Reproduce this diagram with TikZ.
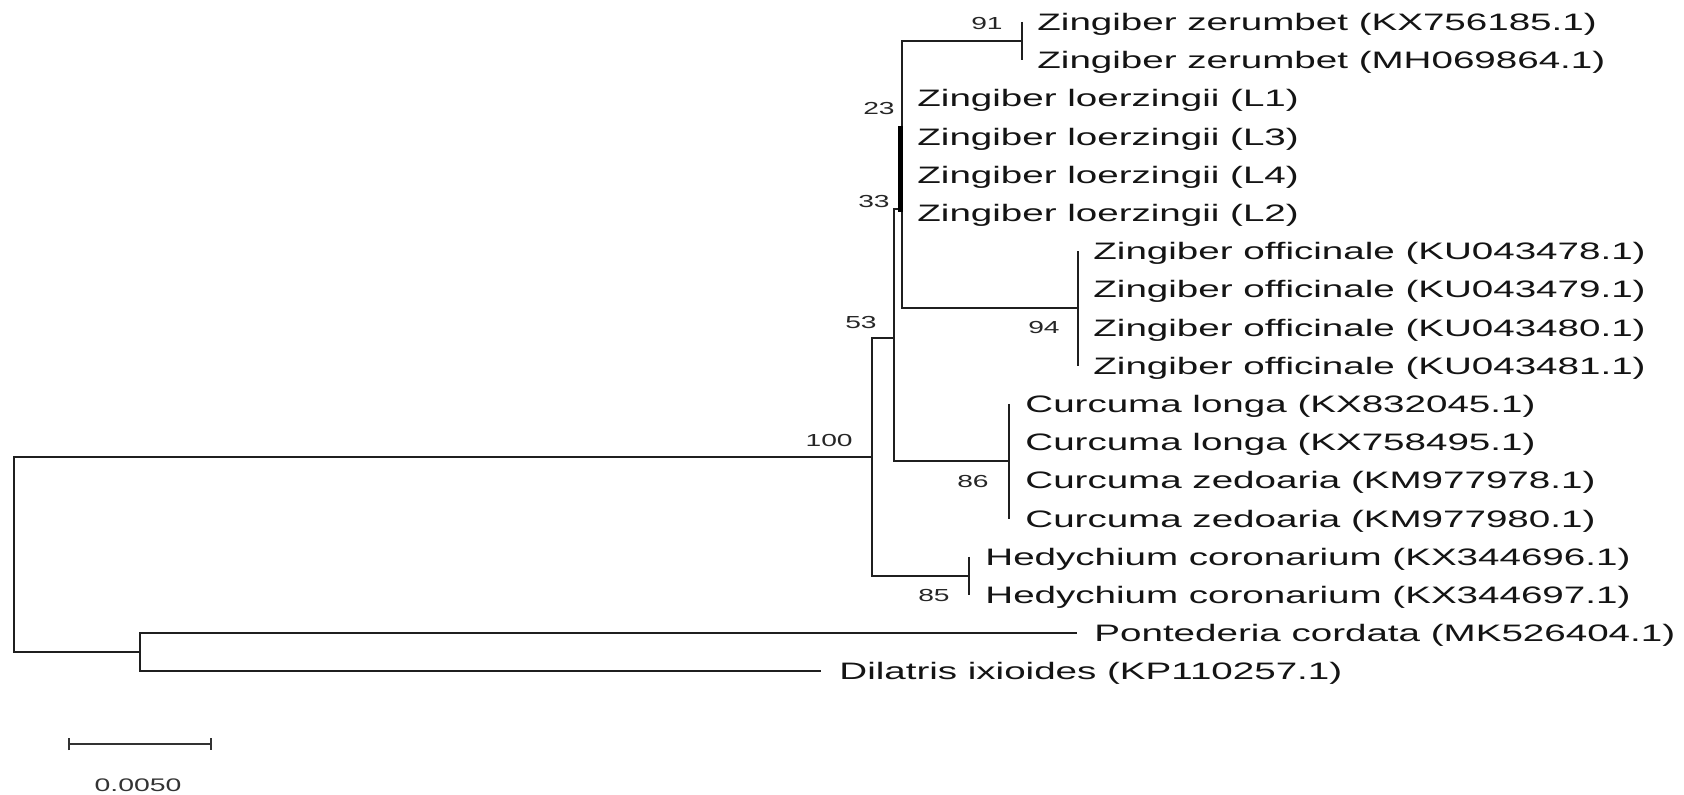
\documentclass[tikz,border=0pt]{standalone}
\usepackage{fontspec}
\setmainfont{Liberation Sans}
\usepackage{graphicx}
\usetikzlibrary{arrows.meta}

% wide-set labels, as the tree program renders them
\newcommand{\widelabel}[1]{\scalebox{1.62}[1]{#1}}
\newcommand{\widescale}[1]{\scalebox{1.56}[1]{#1}}

\tikzset{
  branch/.style={draw=black!88, line width=1pt, line join=miter},
  polytomy/.style={draw=black, line width=2.6pt},
  taxon/.style={anchor=base west, inner sep=0pt, text=black!92,
                font=\fontsize{11.9}{14}\selectfont},
  boot/.style={anchor=base east, inner sep=0pt, text=black!85,
               font=\fontsize{8.7}{10}\selectfont},
  scalebar/.style={draw=black!80, line width=1pt,
                   {Bar[width=6pt]}-{Bar[width=6pt]}},
  scalelabel/.style={anchor=base, inner sep=0pt, text=black!80,
                     font=\fontsize{9.1}{11}\selectfont},
}

\begin{document}
\begin{tikzpicture}[x=0.5pt, y=-0.5pt]
\fill[white] (0,0) rectangle (1684,795);
\useasboundingbox (0,0) rectangle (1684,795);

% internal nodes of the tree
\coordinate (root)  at (14,554);
\coordinate (n100)  at (872,457);
\coordinate (n53)   at (894,338);
\coordinate (n33)   at (902,209);
\coordinate (n23)   at (902,125);
\coordinate (nzer)  at (1022,41.1);
\coordinate (noff)  at (1078,308.5);
\coordinate (ncur)  at (1009,461.3);
\coordinate (nhed)  at (969,575.9);
\coordinate (nout)  at (140,652.3);
\coordinate (lztop) at (900.5,126);
\coordinate (lzbot) at (900.5,212);

% terminal tips
\coordinate (tz1) at (1022,22);    \coordinate (tz2) at (1022,60.2);
\coordinate (to1) at (1078,251.2); \coordinate (to4) at (1078,365.8);
\coordinate (tc1) at (1009,404);   \coordinate (tc4) at (1009,518.6);
\coordinate (th1) at (969,556.8);  \coordinate (th2) at (969,595);
\coordinate (tpon) at (1077,633.2);
\coordinate (tdil) at (821,671.4);

% branches
\draw[branch] (root) |- (n100);
\draw[branch] (root) |- (nout);
\draw[branch] (n100) |- (n53);
\draw[branch] (n100) |- (nhed);
\draw[branch] (n53) |- (n33);
\draw[branch] (n53) |- (ncur);
\draw[branch] (n33) |- (noff);
\draw[branch] (n33) -- (n23);
\draw[branch] (n23) |- (nzer);
\draw[branch] (tz1) -- (tz2);
\draw[branch] (to1) -- (to4);
\draw[branch] (tc1) -- (tc4);
\draw[branch] (th1) -- (th2);
\draw[branch] (nout) |- (tpon);
\draw[branch] (nout) |- (tdil);
\draw[polytomy] (lztop) -- (lzbot);

% taxon labels
\node[taxon] (l1)  at (1037,30.5)  {\widelabel{Zingiber zerumbet (KX756185.1)}};
\node[taxon] (l2)  at (1037,68.7)  {\widelabel{Zingiber zerumbet (MH069864.1)}};
\node[taxon] (l3)  at (917,106.9)  {\widelabel{Zingiber loerzingii (L1)}};
\node[taxon] (l4)  at (917,145.1)  {\widelabel{Zingiber loerzingii (L3)}};
\node[taxon] (l5)  at (917,183.3)  {\widelabel{Zingiber loerzingii (L4)}};
\node[taxon] (l6)  at (917,221.5)  {\widelabel{Zingiber loerzingii (L2)}};
\node[taxon] (l7)  at (1093,259.7) {\widelabel{Zingiber officinale (KU043478.1)}};
\node[taxon] (l8)  at (1093,297.9) {\widelabel{Zingiber officinale (KU043479.1)}};
\node[taxon] (l9)  at (1093,336.1) {\widelabel{Zingiber officinale (KU043480.1)}};
\node[taxon] (l10) at (1093,374.3) {\widelabel{Zingiber officinale (KU043481.1)}};
\node[taxon] (l11) at (1025,412.5) {\widelabel{Curcuma longa (KX832045.1)}};
\node[taxon] (l12) at (1025,450.7) {\widelabel{Curcuma longa (KX758495.1)}};
\node[taxon] (l13) at (1025,488.9) {\widelabel{Curcuma zedoaria (KM977978.1)}};
\node[taxon] (l14) at (1025,527.1) {\widelabel{Curcuma zedoaria (KM977980.1)}};
\node[taxon] (l15) at (985,565.3)  {\widelabel{Hedychium coronarium (KX344696.1)}};
\node[taxon] (l16) at (985,603.5)  {\widelabel{Hedychium coronarium (KX344697.1)}};
\node[taxon] (l17) at (1094,641.7) {\widelabel{Pontederia cordata (MK526404.1)}};
\node[taxon] (l18) at (839,679.9)  {\widelabel{Dilatris ixioides (KP110257.1)}};

% bootstrap support values
\node[boot] (b91)  at (1003,29.3)  {\widelabel{91}};
\node[boot] (b23)  at (895,114.5)  {\widelabel{23}};
\node[boot] (b33)  at (890,207.3)  {\widelabel{33}};
\node[boot] (b53)  at (877,328.3)  {\widelabel{53}};
\node[boot] (b94)  at (1060,333.3) {\widelabel{94}};
\node[boot] (b100) at (853,446.3)  {\widelabel{100}};
\node[boot] (b86)  at (989,487.3)  {\widelabel{86}};
\node[boot] (b85)  at (950,601.3)  {\widelabel{85}};

% scale bar
\coordinate (sbl) at (68,744);
\coordinate (sbr) at (212,744);
\draw[scalebar] (sbl) -- (sbr);
\node[scalelabel] (sblab) at (138,791.5) {\widescale{0.0050}};
\end{tikzpicture}
\end{document}
